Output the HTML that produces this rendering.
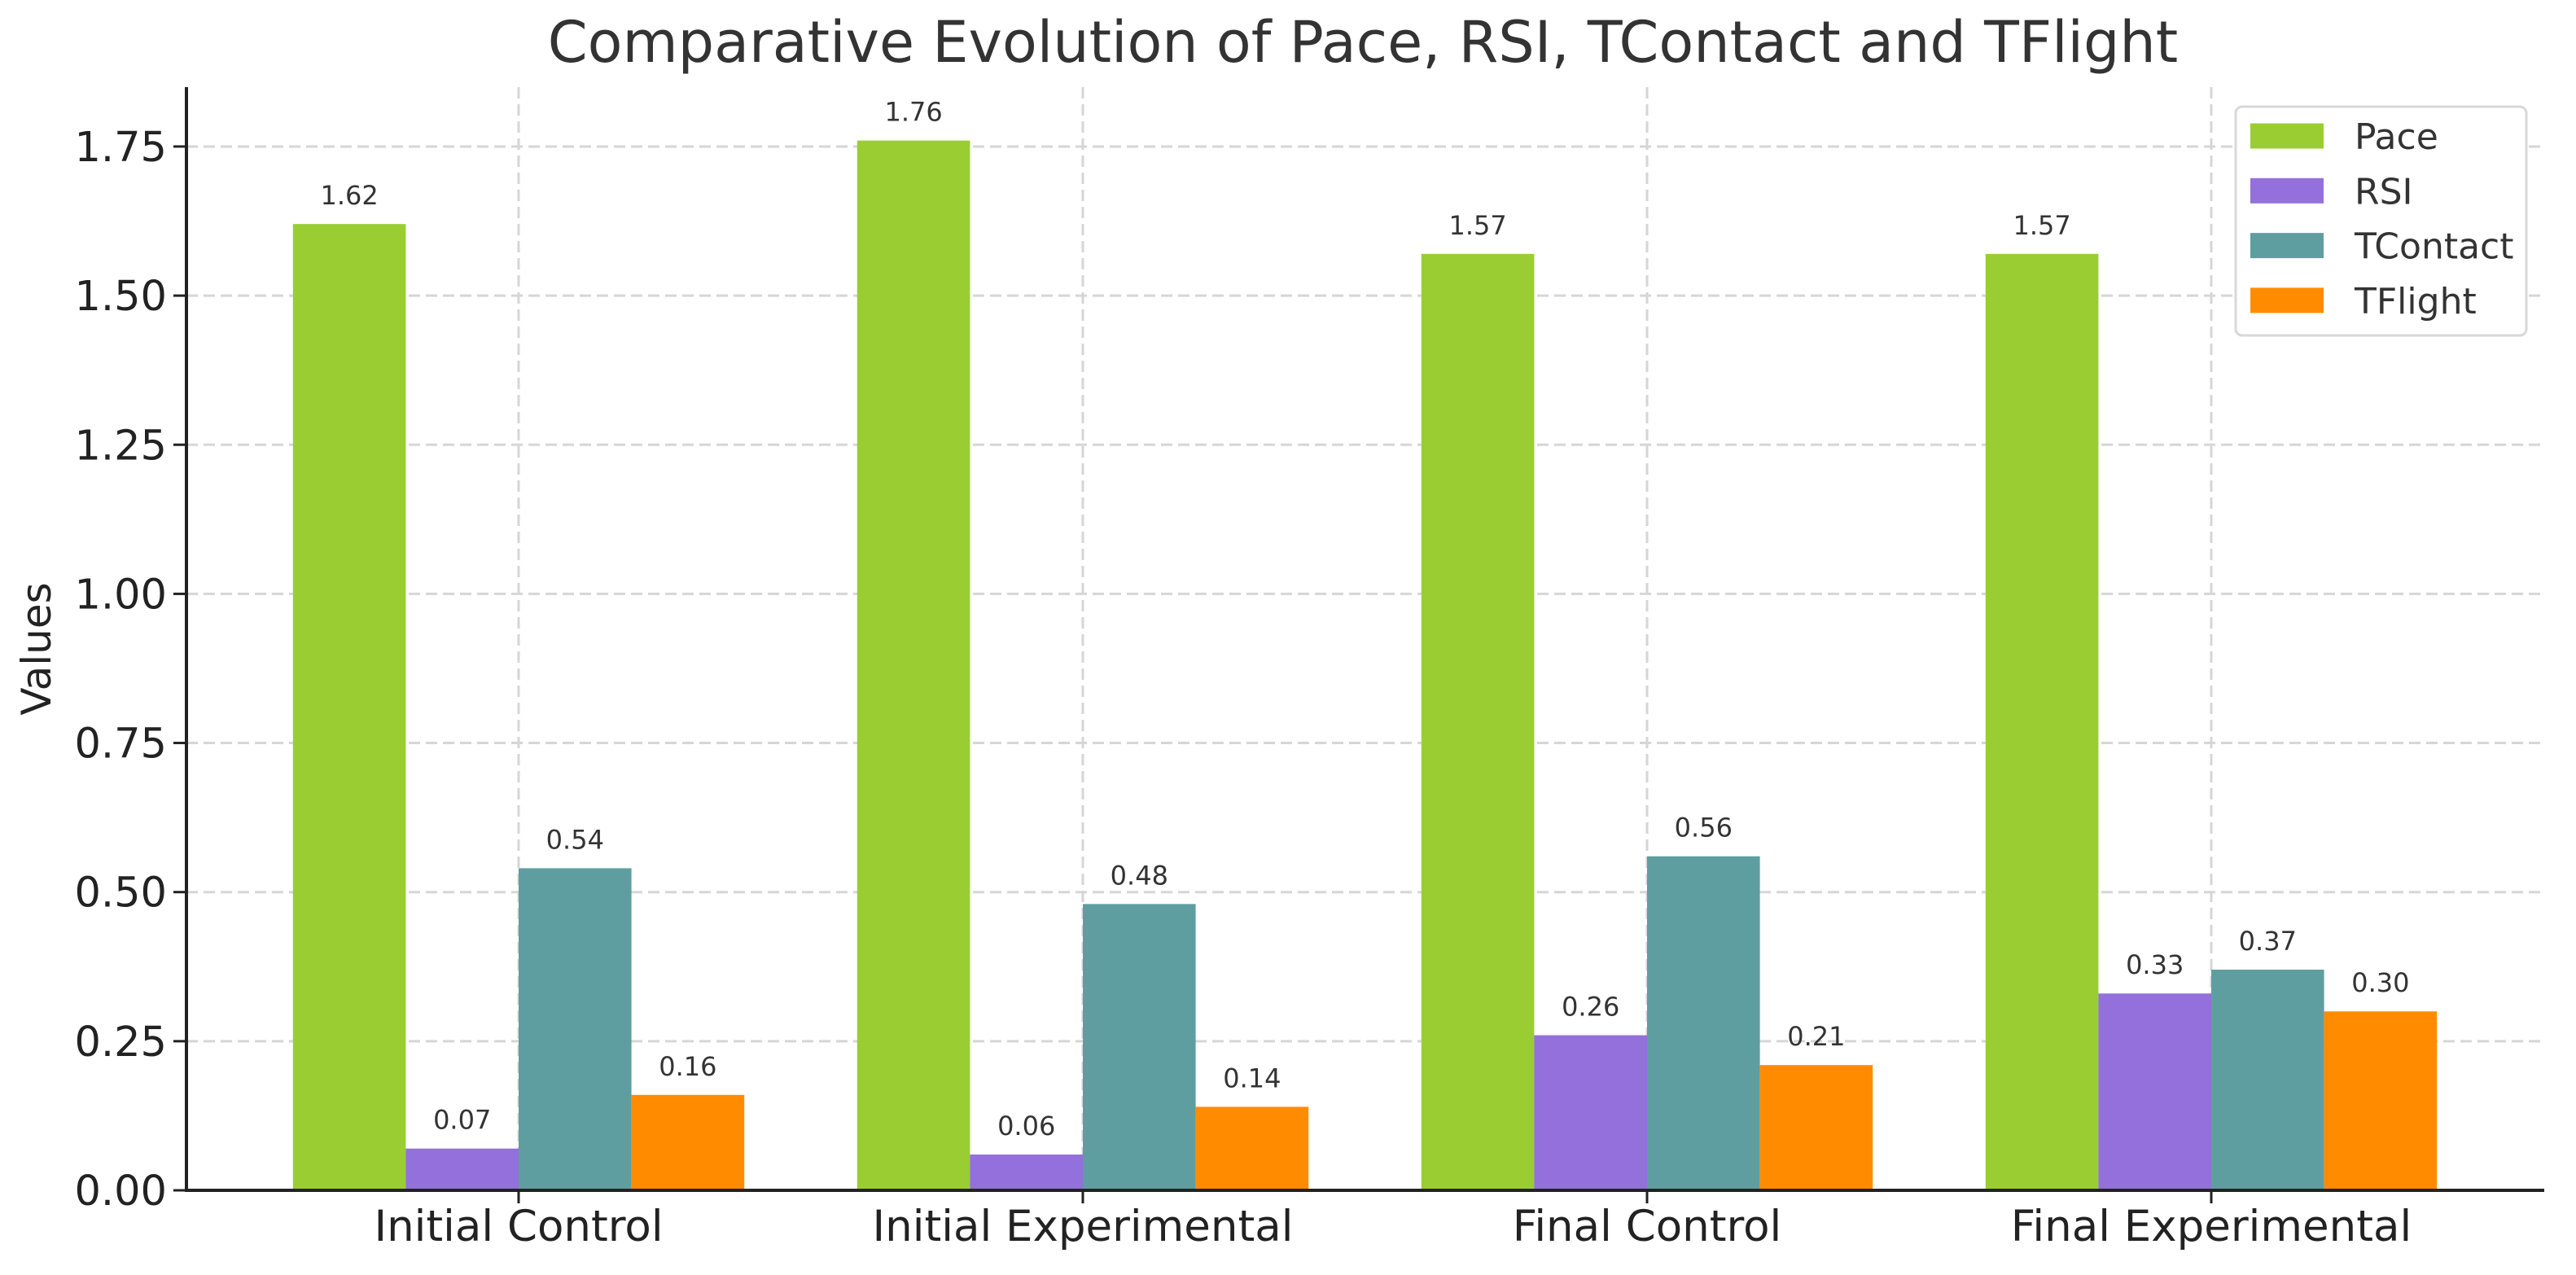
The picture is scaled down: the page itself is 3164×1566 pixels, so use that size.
<!DOCTYPE html>
<html><head><meta charset="utf-8"><style>
html,body{margin:0;padding:0;background:#fff;}
svg{display:block;font-family:"DejaVu Sans","Liberation Sans",sans-serif;}
</style></head><body>
<svg id="chart" width="3164" height="1566" viewBox="0 0 3164 1566" xmlns="http://www.w3.org/2000/svg">
<text x="1674" y="76" font-size="70" fill="#333" text-anchor="middle">Comparative Evolution of Pace, RSI, TContact and TFlight</text>
<g id="grid"></g>
<g id="bars"></g>
<g id="labels"></g>
<g id="axes"></g>
<text transform="translate(62,797) rotate(-90)" font-size="50" fill="#222" text-anchor="middle">Values</text>
<g>
<rect x="2746" y="131" width="357" height="281" rx="8" fill="#fff" stroke="#d8d8d8" stroke-width="3"/>
<g id="legend-entries"></g>
</g>
</svg>
<script>
const categories = ["Initial Control","Initial Experimental","Final Control","Final Experimental"];
const seriesNames = ["Pace","RSI","TContact","TFlight"];
const paceValues = [1.62,1.76,1.57,1.57];
const rsiValues = [0.07,0.06,0.26,0.33];
const tcontactValues = [0.54,0.48,0.56,0.37];
const tflightValues = [0.16,0.14,0.21,0.30];
const yTicks = [0,0.25,0.5,0.75,1.0,1.25,1.5,1.75];
const yTickLabels = ["0.00","0.25","0.50","0.75","1.00","1.25","1.50","1.75"];

const colors = ["#9ACD32","#9370DB","#5F9EA0","#FF8C00"];
const series = [paceValues,rsiValues,tcontactValues,tflightValues];
const NS="http://www.w3.org/2000/svg";
const X0=229, X1=3125, Y0=1462, YT=107, PX_PER_UNIT=732.6, GROUP=693, C0=637, BW=138.6;
function yScale(v){return Y0 - v*PX_PER_UNIT;}
function xCenter(i){return C0 + i*GROUP;}
function mk(tag,attrs,parent){const e=document.createElementNS(NS,tag);for(const k in attrs)e.setAttribute(k,attrs[k]);parent.appendChild(e);return e;}
const grid=document.getElementById('grid'), bars=document.getElementById('bars'), labels=document.getElementById('labels'), axes=document.getElementById('axes');
yTicks.forEach((t,i)=>{
  const y=yScale(t);
  if(t>0){const g=mk('line',{x1:X0,x2:X1,y1:y,y2:y,stroke:'#d6d6d6','stroke-width':3,'stroke-dasharray':'14,7'},grid);
  
  }
  const tk=mk('line',{x1:X0-16,x2:X0,y1:y,y2:y,stroke:'#222','stroke-width':3},axes);
  
  
  const tl=mk('text',{x:X0-24,y:y+18,'font-size':51,fill:'#222','text-anchor':'end'},axes);
  tl.textContent=yTickLabels[i];
  
  
});
categories.forEach((c,i)=>{
  const x=xCenter(i);
  const g=mk('line',{x1:x,x2:x,y1:YT,y2:Y0,stroke:'#d6d6d6','stroke-width':3,'stroke-dasharray':'14,7'},grid);
  
  
  series.forEach((vals,s)=>{
    const v=vals[i], bx=x-2*BW+s*BW, y=yScale(v);
    const r=mk('rect',{x:bx,y:y,width:BW,height:Y0-y,fill:colors[s]},bars);
    
    
    const t=mk('text',{x:bx+BW/2,y:y-24,'font-size':32,fill:'#333','text-anchor':'middle'},labels);
    t.textContent=v.toFixed(2);
    
    
  });
  const tk=mk('line',{x1:x,x2:x,y1:Y0,y2:Y0+16,stroke:'#222','stroke-width':3},axes);
  
  
  const xl=mk('text',{x:x,y:Y0+62,'font-size':53,fill:'#222','text-anchor':'middle'},axes);
  xl.textContent=c;
  
  
});
const ya=mk('line',{x1:X0,x2:X0,y1:YT,y2:Y0+1.5,stroke:'#222','stroke-width':4},axes);


const xa=mk('line',{x1:X0-2,x2:X1,y1:Y0,y2:Y0,stroke:'#222','stroke-width':4},axes);


const le=document.getElementById('legend-entries');
seriesNames.forEach((n,s)=>{
  const cy=167+s*67.3;
  const p=mk('rect',{x:2764,y:cy-15.5,width:90,height:31,fill:colors[s]},le);
  
  
  const t=mk('text',{x:2892,y:cy+16,'font-size':44,fill:'#333'},le);
  t.textContent=n;
  
  
});
</script>
</body></html>
